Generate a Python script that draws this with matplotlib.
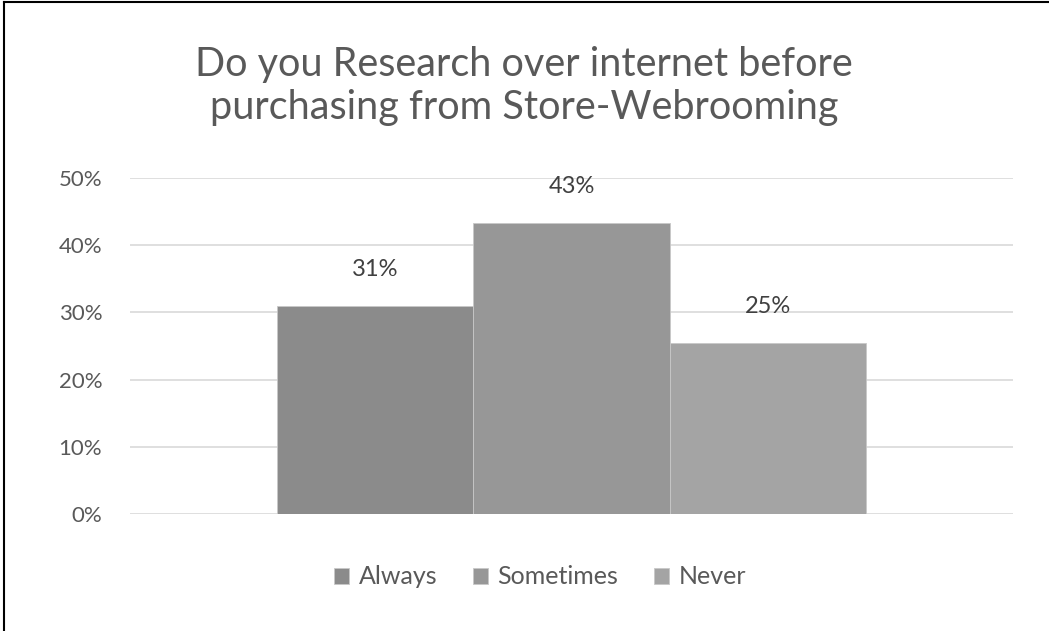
import matplotlib
matplotlib.use("Agg")
import matplotlib.pyplot as plt
from matplotlib.lines import Line2D
import numpy as np

series = ["Always", "Sometimes", "Never"]
values = [0.31, 0.433, 0.255]
labels = ["31%", "43%", "25%"]
colors = ["#8b8b8b", "#979797", "#a4a4a4"]
yticks = [0, 0.1, 0.2, 0.3, 0.4, 0.5]
ytick_labels = ["0%", "10%", "20%", "30%", "40%", "50%"]
title = "Do you Research over internet before\npurchasing from Store-Webrooming"

plt.rcParams['font.family'] = ['Lato', 'DejaVu Sans']
W, H = 1049, 631
fig = plt.figure(figsize=(W/100, H/100), dpi=100)
ax = fig.add_axes([130/W, 1 - 514/H, (1013-130)/W, (514-178)/H])

bw = 0.222
offsets = [-bw, 0, bw]
for s, v, c, o, lab in zip(series, values, colors, offsets, labels):
    ax.bar(o, v, width=bw, color=c, edgecolor="#c8c8c8", linewidth=0.6, label=s, zorder=3)
    ax.annotate(lab, (o, v), xytext=(0, 26), textcoords="offset points",
                ha="center", va="center", fontsize=17, color="#404040")

ax.set_xlim(-0.5, 0.5)
ax.set_ylim(0, 0.5)
ax.set_yticks(yticks)
ax.set_yticklabels(ytick_labels, fontsize=16, color="#595959")
ax.set_xticks([])
ax.tick_params(axis="y", length=0, pad=20)
ax.grid(axis="y", color="#d9d9d9", linewidth=1.2, zorder=0)
for sp in ax.spines.values():
    sp.set_visible(False)

fig.text(524/W, 1 - 86/H, title, ha="center", va="center", fontsize=28.5,
         color="#595959", linespacing=1.2)

leg = fig.legend(loc="center", bbox_to_anchor=(540/W, 1 - 577/H), ncol=3, frameon=False,
                 fontsize=18, handlelength=0.6, handleheight=0.6, handletextpad=0.4,
                 columnspacing=1.4, labelcolor="#595959")

fig.add_artist(Line2D([3.5/W, 1], [1 - 1.5/H, 1 - 1.5/H], transform=fig.transFigure, color="black", linewidth=1.5))
fig.add_artist(Line2D([3.5/W, 3.5/W], [0, 1 - 1.5/H], transform=fig.transFigure, color="black", linewidth=1.5))

fig.savefig("out.png", dpi=100)
